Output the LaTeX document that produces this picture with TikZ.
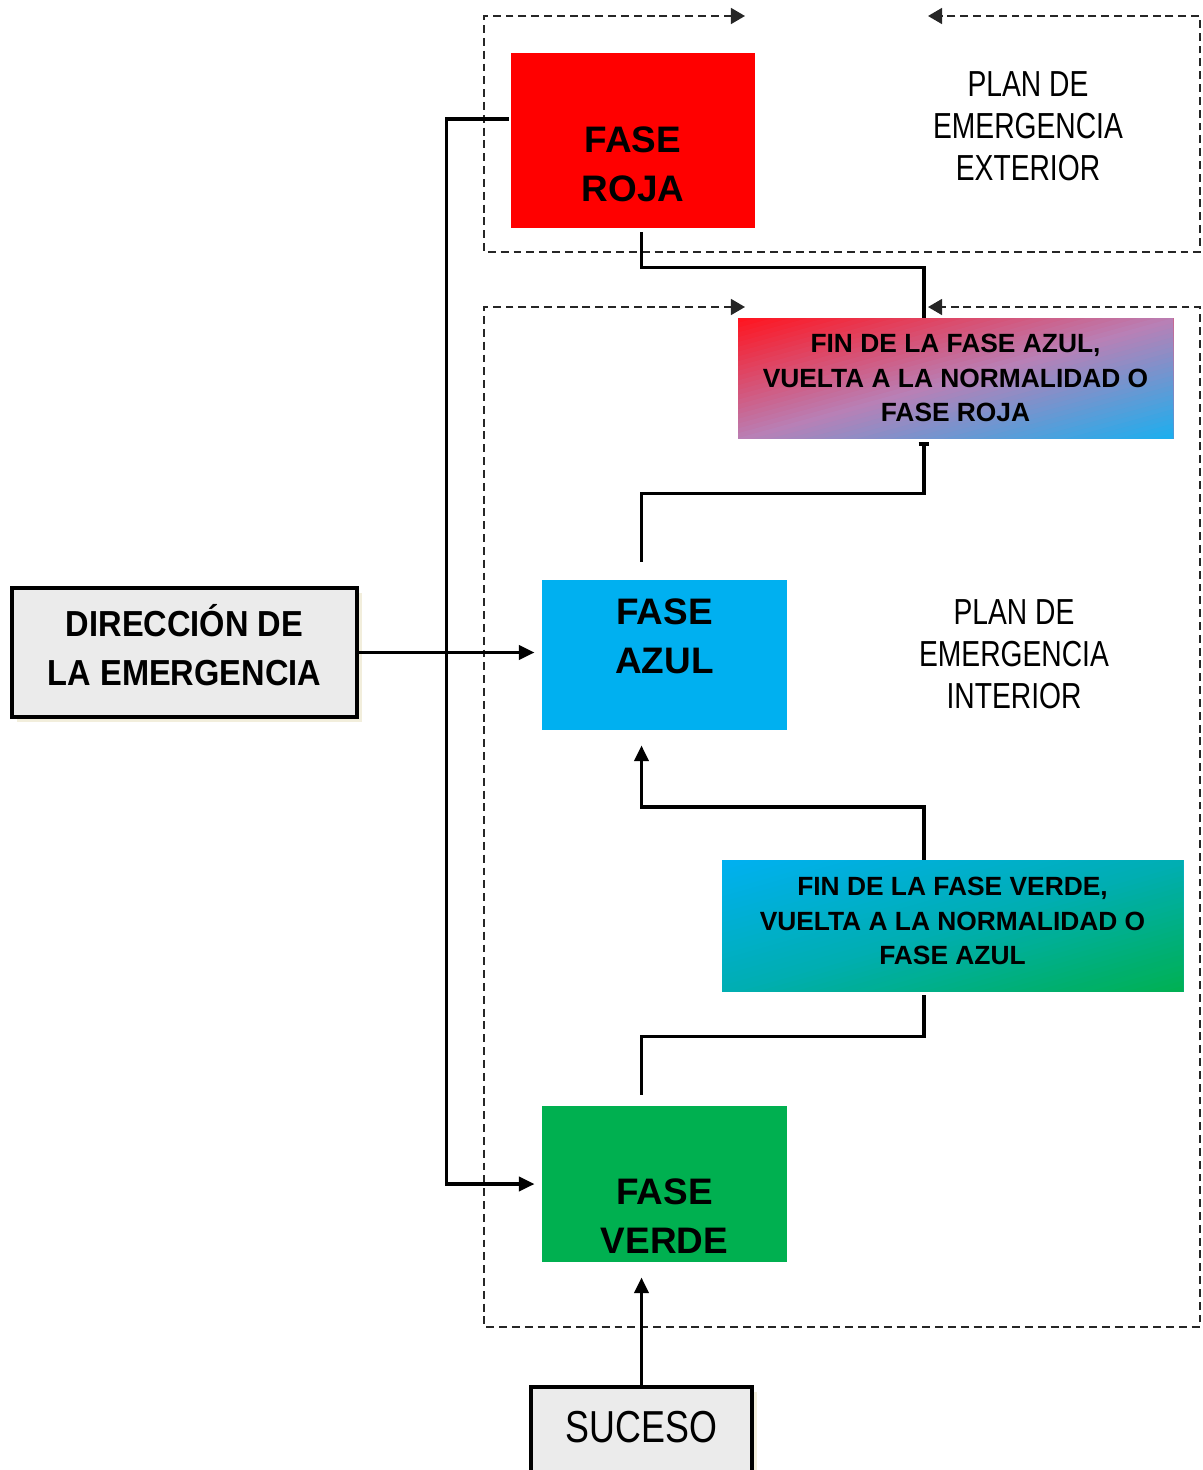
\documentclass[tikz,border=0pt]{standalone}
\usepackage{fontspec}
\setmainfont{Liberation Sans}
\newfontfamily\planfont[FakeStretch=0.78]{Liberation Sans}
\newfontfamily\dirfont[FakeStretch=0.9]{Liberation Sans}
\newfontfamily\sucfont[FakeStretch=0.8]{Liberation Sans}
\usetikzlibrary{arrows.meta,calc,shadows}
\definecolor{rojo}{HTML}{FF0000}
\definecolor{azul}{HTML}{00B0F0}
\definecolor{verde}{HTML}{00B050}
\definecolor{gris}{HTML}{EBEBEB}
\definecolor{rojog}{HTML}{FF1520}
\definecolor{malva}{HTML}{B880B6}
\definecolor{azulg}{HTML}{18B0F0}
\definecolor{turq}{HTML}{00AEB2}
\definecolor{sombra}{HTML}{F2EEDC}
% diagonal (corner to corner) gradient drawn as stripes inside a path picture
\newcommand\diaggrad[3]{%
  \foreach \i in {0,...,49}{%
    \pgfmathsetmacro\tt{\i/50}%
    \ifnum\i<25
      \pgfmathtruncatemacro\pc{100-4*\i}\def\col{#1!\pc!#2}%
    \else
      \pgfmathtruncatemacro\pc{200-4*\i}\def\col{#2!\pc!#3}%
    \fi
    \fill[fill=\col]
      ($(path picture bounding box.north west)!\tt!(path picture bounding box.south east)+(path picture bounding box.north east)-(path picture bounding box.south west)$)
      -- ($(path picture bounding box.north west)!\tt!(path picture bounding box.south east)-(path picture bounding box.north east)+(path picture bounding box.south west)$)
      -- ($(path picture bounding box.north west)!1.05!(path picture bounding box.south east)-(path picture bounding box.north east)+(path picture bounding box.south west)$)
      -- ($(path picture bounding box.north west)!1.05!(path picture bounding box.south east)+(path picture bounding box.north east)-(path picture bounding box.south west)$)
      -- cycle;
  }%
}
\begin{document}
\begin{tikzpicture}[x=0.02cm,y=-0.02cm,
  conn/.style={line width=2.1pt, line join=miter},
  tip/.style={-{Triangle[length=9pt,width=8pt]}},
  dashbox/.style={line width=1.2pt, dash pattern=on 4.5pt off 2.8pt, black!85, {Triangle[length=8pt,width=9pt]}-{Triangle[length=8pt,width=9pt]}},
  wh/.style 2 args={minimum width=#1*0.02cm, minimum height=#2*0.02cm},
  phase/.style={inner sep=0pt, draw=none},
  fasetext/.style={font=\bfseries\fontsize{21}{27.8}\selectfont, align=center},
  fintext/.style={font=\bfseries\fontsize{15}{19.8}\selectfont, align=center},
  plantext/.style={font=\planfont\fontsize{20.6}{24}\selectfont, align=center},
  graybox/.style={draw, line width=2pt, fill=gris, inner sep=0pt, drop shadow={shadow xshift=3pt, shadow yshift=-3pt, fill=sombra, opacity=1}},
]
\useasboundingbox (0,0) rectangle (1203,1470);

% phase boxes
\node[phase, fill=rojo, wh={244}{175}] (roja) at (633,140.5) {};
\node[fasetext] (rojaT) at (633,164.5) {FASE\\ROJA};
\node[phase, wh={435}{120}, path picture={\diaggrad{rojog}{malva}{azulg}}] (finazul) at (955.5,378) {};
\node[fintext] (finazulT) at (955.5,378) {FIN DE LA FASE AZUL,\\VUELTA A LA NORMALIDAD O\\FASE ROJA};
\node[phase, fill=azul, wh={245}{150}] (azul) at (664.5,655) {};
\node[fasetext] (azulT) at (664.5,636) {FASE\\AZUL};
\node[phase, wh={461}{131}, path picture={\diaggrad{azul}{turq}{verde}}] (finverde) at (952.5,925.5) {};
\node[fintext] (finverdeT) at (952.5,921) {FIN DE LA FASE VERDE,\\VUELTA A LA NORMALIDAD O\\FASE AZUL};
\node[phase, fill=verde, wh={245}{156}] (verde) at (664.5,1184) {};
\node[fasetext] (verdeT) at (664.5,1216) {FASE\\VERDE};

\node[graybox, wh={345}{129}] (dir) at (184.5,652.5) {};
\node[font=\dirfont\bfseries\fontsize{20.6}{27.8}\selectfont, align=center] (dirT) at (184.5,645.5) {DIRECCIÓN DE\\LA EMERGENCIA};
\node[graybox, wh={221}{90}] (suceso) at (641.5,1432) {};
\node[font=\sucfont\fontsize{25.5}{30}\selectfont] (sucesoT) at (641.5,1427) {SUCESO};

\node[plantext] (planext) at (1028,126) {PLAN DE\\EMERGENCIA\\EXTERIOR};
\node[plantext] (planint) at (1014,654) {PLAN DE\\EMERGENCIA\\INTERIOR};

% dashed frames
\draw[dashbox] (745,16) -- (484,16) -- (484,252) -- (1200,252) -- (1200,16) -- (928,16);
\draw[dashbox] (745,307) -- (484,307) -- (484,1327) -- (1200,1327) -- (1200,307) -- (928,307);

% connectors
\coordinate (colR) at (924,0);
\draw[conn] ($(roja.south -| suceso.north)+(0,4)$) -- ++(0,35) -| (finazul.north -| colR);
\draw[conn,-{Bar[width=6pt]}] ($(azul.north -| suceso.north)+(0,-18)$) -- ++(0,-68) -| ($(finazul.south -| colR)+(0,4)$);
\draw[conn,tip] (finverde.north -| colR) -- ++(0,-53) -| ($(azul.south -| suceso.north)+(0,15)$);
\draw[conn] ($(finverde.south -| colR)+(0,4)$) -- ++(0,41) -| ($(verde.north -| suceso.north)+(0,-11)$);
\draw[conn,tip] (suceso.north) -- ($(verde.south -| suceso.north)+(0,15)$);
\draw[conn,tip,shorten >=4pt] (dir.east) -- (dir.east -| azul.west);
\draw[conn,tip,shorten >=4pt] ($(roja.west)+(-2,-21.5)$) -- ++(-62,0) |- (verde.west);
\end{tikzpicture}
\end{document}
